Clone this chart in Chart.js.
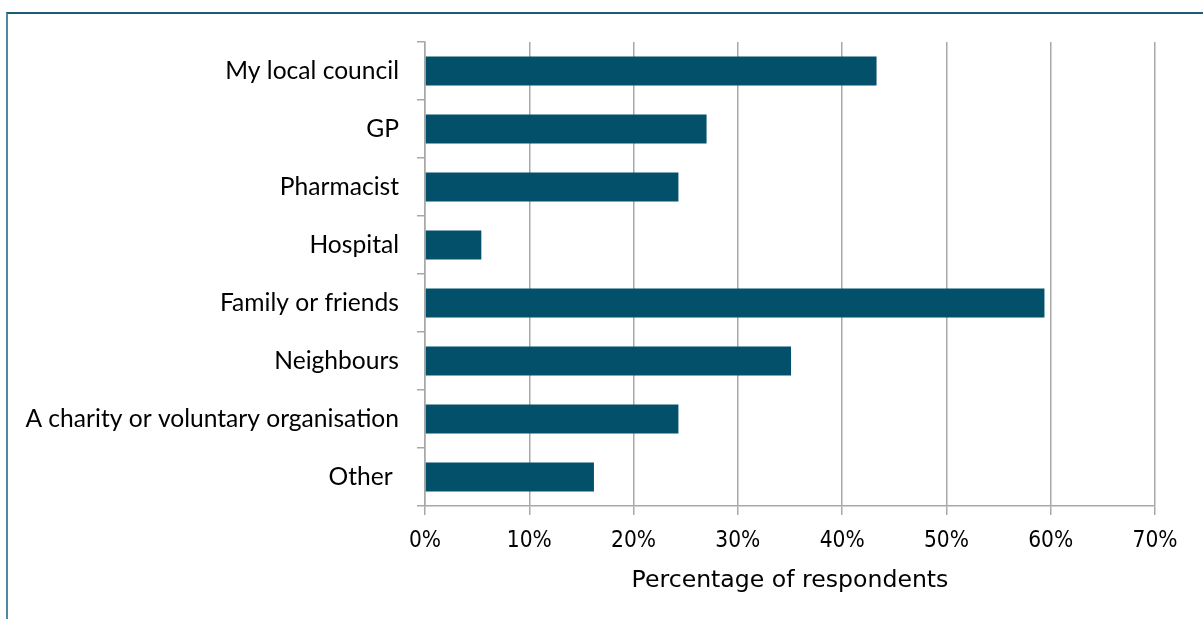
<!DOCTYPE html>
<html>
<head>
<meta charset="utf-8">
<title>Sources of support</title>
<script src="https://cdn.jsdelivr.net/npm/chart.js@4.4.0/dist/chart.umd.min.js"></script>
<style>
  body { margin: 0; background: #fff; }
  #frame {
    position: absolute; left: 6px; top: 12px; width: 1400px; height: 800px;
    border-top: 2px solid #185c78; border-left: 2px solid #4f8aa3;
  }
  #wrap { position: absolute; left: 0; top: 0; width: 1203px; height: 619px; }
</style>
</head>
<body>
<div id="frame"></div>
<div id="wrap"><canvas id="support-chart" width="1203" height="619"></canvas></div>
<script>
var categories = [
  'My local council',
  'GP',
  'Pharmacist',
  'Hospital',
  'Family or friends',
  'Neighbours',
  'A charity or voluntary organisation',
  'Other '
];
var respondents = [43.3, 27.0, 24.3, 5.4, 59.4, 35.1, 24.3, 16.2];
var xMin = 0, xMax = 70, xStep = 10;

var gridGrey = '#a8a8a8';

var supportChart = new Chart(document.getElementById('support-chart'), {
  type: 'bar',
  data: {
    labels: categories,
    datasets: [{
      data: respondents,
      backgroundColor: '#03506b',
      barPercentage: 0.5,
      categoryPercentage: 1.0
    }]
  },
  options: {
    indexAxis: 'y',
    responsive: false,
    animation: false,
    layout: { padding: { top: 42, right: 48, left: 0, bottom: 0 } },
    plugins: {
      legend: { display: false },
      tooltip: { enabled: false }
    },
    scales: {
      y: {
        grid: { offset: true, drawOnChartArea: false, tickLength: 8, color: gridGrey, lineWidth: 1.5 },
        border: { color: gridGrey, width: 1.5 },
        ticks: {
          color: '#000',
          padding: 18,
          font: { family: 'Lato', size: 24.6 }
        },
        afterFit: function (scale) { scale.width = 425; }
      },
      x: {
        min: xMin,
        max: xMax,
        grid: { color: gridGrey, lineWidth: 1.5, tickLength: 9 },
        border: { color: gridGrey, width: 1.5 },
        ticks: {
          stepSize: xStep,
          color: '#000',
          padding: 13,
          font: { family: 'DejaVu Sans Condensed', size: 22.5 },
          callback: function (value) { return value + '%'; }
        },
        title: {
          display: true,
          text: 'Percentage of respondents',
          color: '#000',
          font: { family: 'DejaVu Sans', size: 23.6 },
          padding: { top: 0, bottom: 24 }
        },
        afterFit: function (scale) { scale.height = 113; }
      }
    }
  }
});
</script>
</body>
</html>
